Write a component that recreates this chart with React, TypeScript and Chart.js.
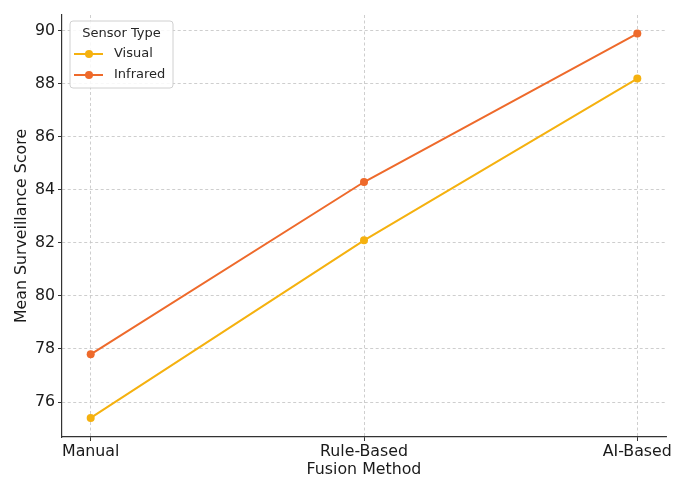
import React, { useEffect, useRef } from "react";
import { Chart, registerables } from "chart.js";

Chart.register(...registerables);

const categories = ["Manual", "Rule-Based", "AI-Based"];
const visualScores = [75.4, 82.1, 88.2];
const infraredScores = [77.8, 84.3, 89.9];
const yTicks = [76, 78, 80, 82, 84, 86, 88, 90];
const seriesNames = ["Visual", "Infrared"];
const seriesColors = ["#f5b10f", "#ee6a2b"];
const legendTitle = "Sensor Type";
const xTitle = "Fusion Method";
const yTitle = "Mean Surveillance Score";

const FONT = "'DejaVu Sans', sans-serif";

const legendPlugin = {
  id: "mplLegend",
  afterDraw(chart: any) {
    const ctx = chart.ctx;
    const { left, top } = chart.chartArea;
    const x0 = left + 8;
    const y0 = top + 6;
    const w = 103;
    const h = 67;
    ctx.save();
    ctx.beginPath();
    const r = 3;
    ctx.moveTo(x0 + r, y0);
    ctx.lineTo(x0 + w - r, y0);
    ctx.quadraticCurveTo(x0 + w, y0, x0 + w, y0 + r);
    ctx.lineTo(x0 + w, y0 + h - r);
    ctx.quadraticCurveTo(x0 + w, y0 + h, x0 + w - r, y0 + h);
    ctx.lineTo(x0 + r, y0 + h);
    ctx.quadraticCurveTo(x0, y0 + h, x0, y0 + h - r);
    ctx.lineTo(x0, y0 + r);
    ctx.quadraticCurveTo(x0, y0, x0 + r, y0);
    ctx.closePath();
    ctx.fillStyle = "rgba(255,255,255,0.85)";
    ctx.fill();
    ctx.strokeStyle = "#d0d0d0";
    ctx.lineWidth = 1;
    ctx.stroke();

    ctx.fillStyle = "#262626";
    ctx.font = `13px ${FONT}`;
    ctx.textAlign = "center";
    ctx.textBaseline = "middle";
    ctx.fillText(legendTitle, x0 + w / 2, y0 + 13);

    chart.data.datasets.forEach((ds: any, i: number) => {
      const y = y0 + 33 + i * 21;
      ctx.strokeStyle = ds.borderColor;
      ctx.lineWidth = 2;
      ctx.beginPath();
      ctx.moveTo(x0 + 4, y);
      ctx.lineTo(x0 + 33, y);
      ctx.stroke();
      ctx.fillStyle = ds.borderColor;
      ctx.beginPath();
      ctx.arc(x0 + 19, y, 4, 0, Math.PI * 2);
      ctx.fill();
      ctx.fillStyle = "#262626";
      ctx.textAlign = "left";
      ctx.fillText(ds.label, x0 + 44, y);
    });
    ctx.restore();
  },
};

export default function App() {
  const ref = useRef<HTMLCanvasElement>(null);

  useEffect(() => {
    if (!ref.current) return;
    const seriesValues = [visualScores, infraredScores];
    const chart = new Chart(ref.current, {
      type: "line",
      data: {
        datasets: seriesNames.map((name, i) => ({
          label: name,
          data: seriesValues[i].map((v, j) => ({ x: j, y: v })),
          borderColor: seriesColors[i],
          backgroundColor: seriesColors[i],
          borderWidth: 2,
          pointRadius: 4,
          pointBorderWidth: 0,
          pointBackgroundColor: seriesColors[i],
          tension: 0,
          fill: false,
        })),
      },
      options: {
        animation: false,
        responsive: false,
        layout: { padding: { top: 15, right: 28, left: 0, bottom: 0 } },
        plugins: {
          legend: { display: false },
          tooltip: { enabled: false },
        },
        scales: {
          x: {
            type: "linear",
            min: -0.105,
            max: 2.105,
            afterFit: (s: any) => {
              s.height = 59;
            },
            afterBuildTicks: (s: any) => {
              s.ticks = categories.map((_, i) => ({ value: i }));
            },
            ticks: {
              callback: (v: any) => categories[v as number] ?? "",
              color: "#1a1a1a",
              font: { family: FONT, size: 15.8 },
              padding: 1,
              maxRotation: 0,
            },
            grid: {
              color: "#c8c8c8",
              lineWidth: 0.9,
              tickColor: "#333333",
              tickLength: 4,
              tickWidth: 1,
              tickBorderDash: [],
            } as any,
            border: { display: true, color: "#333333", width: 1.2, dash: [3, 2.5] } as any,
            title: {
              display: true,
              text: xTitle,
              color: "#1a1a1a",
              font: { family: FONT, size: 15.8 },
              padding: { top: 0, bottom: 17 },
            },
          },
          y: {
            type: "linear",
            min: 74.68,
            max: 90.6,
            afterFit: (s: any) => {
              s.width = 62;
            },
            afterBuildTicks: (s: any) => {
              s.ticks = yTicks.map((v) => ({ value: v }));
            },
            ticks: {
              color: "#1a1a1a",
              font: { family: FONT, size: 15.8 },
              padding: 3,
            },
            grid: {
              color: "#c8c8c8",
              lineWidth: 0.9,
              tickColor: "#333333",
              tickLength: 4,
              tickWidth: 1,
              tickBorderDash: [],
            } as any,
            border: { display: true, color: "#333333", width: 1.2, dash: [3, 2.5] } as any,
            title: {
              display: true,
              text: yTitle,
              color: "#1a1a1a",
              font: { family: FONT, size: 15.8 },
              padding: { top: 12.5, bottom: 0 },
            },
          },
        },
      },
      plugins: [legendPlugin],
    } as any);
    return () => chart.destroy();
  }, []);

  return (
    <div style={{ position: "fixed", left: 0, top: 0, width: 694, height: 496, background: "#fff" }}>
      <canvas ref={ref} width={694} height={496} style={{ display: "block" }} />
    </div>
  );
}
